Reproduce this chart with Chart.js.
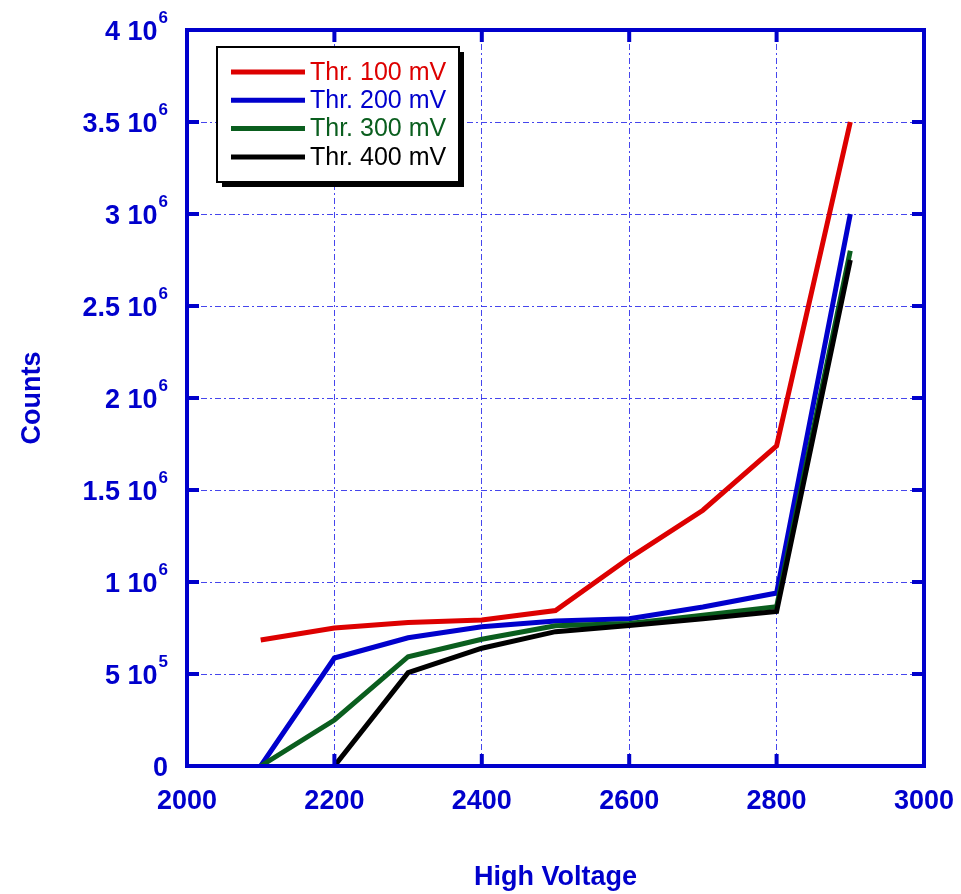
<!DOCTYPE html>
<html>
<head>
<meta charset="utf-8">
<title>Counts vs High Voltage</title>
<script src="https://cdn.jsdelivr.net/npm/chart.js@4.4.1/dist/chart.umd.min.js"></script>
<style>
  html, body { margin: 0; padding: 0; background: #ffffff; }
  #wrap { position: relative; width: 961px; height: 894px; }
</style>
</head>
<body>
<div id="wrap"><canvas id="chart" width="961" height="894"></canvas></div>
<script>
// High voltage settings (V)
const voltages = [2100, 2200, 2300, 2400, 2500, 2600, 2700, 2800, 2900];

// Counts for each discriminator threshold
const thr100 = [685000, 750000, 780000, 793000, 845000, 1130000, 1390000, 1740000, 3500000];
const thr200 = [0, 587000, 697000, 757000, 788000, 800000, 864000, 940000, 3000000];
const thr300 = [0, 250000, 594000, 689000, 762000, 775000, 820000, 866000, 2800000];
const thr400 = [null, 0, 507000, 640000, 730000, 763000, 800000, 840000, 2750000];

const seriesNames = ['Thr. 100 mV', 'Thr. 200 mV', 'Thr. 300 mV', 'Thr. 400 mV'];
const seriesColors = ['#dd0000', '#0000cc', '#0a5e1e', '#000000'];

// Axis ranges and tick steps
const xRange = [2000, 3000];
const xStep = 200;
const yRange = [0, 4000000];
const yStep = 500000;

const AXIS_BLUE = '#0000cc';
const FONT = '"Liberation Sans", Arial, Helvetica, sans-serif';

function toPoints(values) {
  return voltages.map((v, i) => ({ x: v, y: values[i] }));
}

// "m 10^e" style label parts
function sciParts(v) {
  if (v === 0) return { base: '0', exp: '' };
  const e = Math.floor(Math.log10(v) + 1e-9);
  const m = +(v / Math.pow(10, e)).toFixed(2);
  return { base: m + ' 10', exp: String(e) };
}

// Frame, inward ticks and superscript y labels
const framePlugin = {
  id: 'frame',
  afterDraw(chart) {
    const { ctx, chartArea: a, scales } = chart;
    const xs = scales.x, ys = scales.y;
    ctx.save();
    ctx.strokeStyle = AXIS_BLUE;
    ctx.lineWidth = 4;
    ctx.lineCap = 'butt';
    const tl = 12;
    xs.ticks.forEach(t => {
      const px = xs.getPixelForValue(t.value);
      if (t.value === xRange[0] || t.value === xRange[1]) return;
      ctx.beginPath();
      ctx.moveTo(px, a.bottom); ctx.lineTo(px, a.bottom - tl);
      ctx.moveTo(px, a.top); ctx.lineTo(px, a.top + tl);
      ctx.stroke();
    });
    ys.ticks.forEach(t => {
      const py = ys.getPixelForValue(t.value);
      if (t.value === yRange[0] || t.value === yRange[1]) return;
      ctx.beginPath();
      ctx.moveTo(a.left, py); ctx.lineTo(a.left + tl, py);
      ctx.moveTo(a.right, py); ctx.lineTo(a.right - tl, py);
      ctx.stroke();
    });
    ctx.lineJoin = 'miter';
    ctx.strokeRect(a.left, a.top, a.right - a.left, a.bottom - a.top);

    // y tick labels with superscript exponent
    ctx.fillStyle = AXIS_BLUE;
    ctx.textBaseline = 'alphabetic';
    const rightX = a.left - 19;
    ys.ticks.forEach(t => {
      const py = ys.getPixelForValue(t.value);
      const p = sciParts(t.value);
      ctx.font = 'bold 17px ' + FONT;
      const ew = p.exp ? ctx.measureText(p.exp).width : 0;
      ctx.textAlign = 'right';
      if (p.exp) ctx.fillText(p.exp, rightX, py - 7);
      ctx.font = 'bold 27px ' + FONT;
      ctx.fillText(p.base, rightX - ew - (p.exp ? 1 : 0), py + 9.7);
    });
    ctx.restore();
  }
};

// Boxed legend with drop shadow
const legendBoxPlugin = {
  id: 'legendBox',
  afterDraw(chart) {
    const { ctx } = chart;
    const bx = 217, by = 47, bw = 242, bh = 135;
    ctx.save();
    ctx.fillStyle = '#000000';
    ctx.fillRect(bx + 5, by + 5, bw, bh);
    ctx.fillStyle = '#ffffff';
    ctx.fillRect(bx, by, bw, bh);
    ctx.strokeStyle = '#000000';
    ctx.lineWidth = 2;
    ctx.strokeRect(bx, by, bw, bh);
    ctx.font = '25px ' + FONT;
    ctx.textAlign = 'left';
    ctx.textBaseline = 'middle';
    chart.data.datasets.forEach((ds, i) => {
      const cy = 72 + i * 28.3;
      ctx.strokeStyle = ds.borderColor;
      ctx.lineWidth = 5;
      ctx.beginPath();
      ctx.moveTo(231, cy); ctx.lineTo(305, cy);
      ctx.stroke();
      ctx.fillStyle = ds.borderColor;
      ctx.fillText(ds.label, 310, cy + 1);
    });
    ctx.restore();
  }
};

const datasets = [thr100, thr200, thr300, thr400].map((vals, i) => ({
  label: seriesNames[i],
  data: toPoints(vals),
  borderColor: seriesColors[i],
  backgroundColor: seriesColors[i],
  borderWidth: 5,
  pointRadius: 0,
  tension: 0,
  fill: false,
  spanGaps: false,
  order: 3 - i
}));

new Chart(document.getElementById('chart'), {
  type: 'line',
  data: { datasets },
  options: {
    responsive: false,
    animation: false,
    devicePixelRatio: 1,
    layout: { padding: { top: 30, right: 37, left: 0, bottom: 0 } },
    plugins: {
      legend: { display: false },
      tooltip: { enabled: false }
    },
    scales: {
      x: {
        type: 'linear',
        min: xRange[0], max: xRange[1],
        ticks: {
          stepSize: xStep,
          color: AXIS_BLUE,
          font: { family: FONT, size: 27, weight: 'bold' },
          padding: 19,
          maxRotation: 0,
          callback: v => String(v)
        },
        grid: {
          color: 'rgba(50,50,235,0.9)',
          lineWidth: 1,
          drawTicks: false
        },
        border: { display: false, dash: [6, 3, 2, 3] },
        title: {
          display: true,
          text: 'High Voltage',
          color: AXIS_BLUE,
          font: { family: FONT, size: 27, weight: 'bold' },
          padding: { top: 0, bottom: 0 }
        },
        afterFit(scale) {
          scale.height = 128;
          scale.paddingLeft = 0;
          scale.paddingRight = 0;
        }
      },
      y: {
        type: 'linear',
        min: yRange[0], max: yRange[1],
        ticks: { stepSize: yStep, display: false },
        grid: {
          color: 'rgba(50,50,235,0.9)',
          lineWidth: 1,
          drawTicks: false
        },
        border: { display: false, dash: [6, 3, 2, 3] },
        title: {
          display: true,
          text: 'Counts',
          color: AXIS_BLUE,
          font: { family: FONT, size: 27, weight: 'bold' },
          padding: { top: 16, bottom: 0 }
        },
        afterFit(scale) {
          scale.width = 187;
          scale.paddingTop = 0;
          scale.paddingBottom = 0;
        }
      }
    }
  },
  plugins: [framePlugin, legendBoxPlugin]
});
</script>
</body>
</html>
